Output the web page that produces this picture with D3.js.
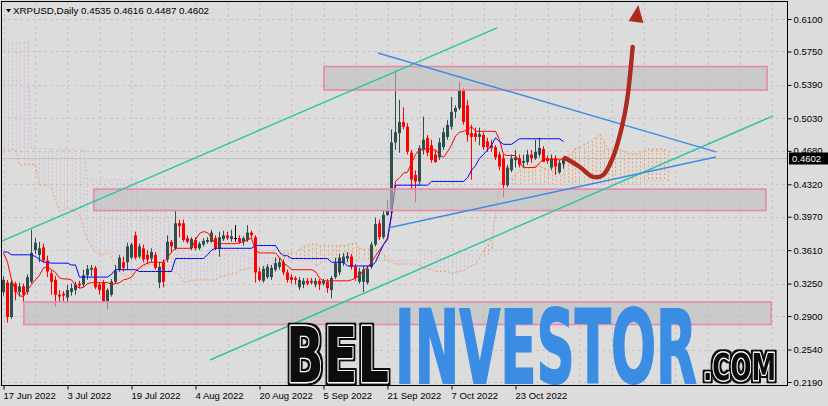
<!DOCTYPE html>
<html><head><meta charset="utf-8">
<script src="https://cdn.jsdelivr.net/npm/d3@7"></script>
<style>body{margin:0;background:#dcdcdc;}svg{display:block}</style>
</head><body><svg id="c" width="828" height="406"></svg>
<script>
// ---------- DATA ----------
const symbol = "XRPUSD,Daily";
const lastQuote = ["0.4535", "0.4616", "0.4487", "0.4602"];
const dateTickBars = [0, 16, 32, 48, 64, 80, 96, 112, 128];
const dateTickLabels = ["17 Jun 2022", "3 Jul 2022", "19 Jul 2022", "4 Aug 2022", "20 Aug 2022", "5 Sep 2022", "21 Sep 2022", "7 Oct 2022", "23 Oct 2022"];
const priceTicks = [0.6100, 0.5750, 0.5390, 0.5030, 0.4680, 0.4320, 0.3970, 0.3610, 0.3250, 0.2900, 0.2540, 0.2190];
const lastPrice = 0.4602;

const opens = [.316,.326,.289,.325,.316,.322,.316,.327,.361,.356,
.364,.350,.336,.329,.313,.314,.310,.316,.318,.325,
.324,.334,.340,.342,.324,.326,.306,.313,.327,.340,
.348,.348,.353,.377,.354,.363,.356,.352,.356,.326,
.348,.351,.370,.363,.390,.390,.374,.363,.372,.363,
.367,.370,.370,.374,.363,.373,.377,.373,.374,.374,
.370,.372,.380,.375,.338,.328,.332,.332,.340,.343,
.348,.337,.332,.331,.321,.324,.328,.328,.324,.328,
.325,.327,.318,.332,.337,.347,.352,.354,.343,.327,
.327,.326,.343,.367,.390,.375,.399,.402,.477,.487,
.499,.494,.466,.442,.435,.469,.482,.474,.464,.461,
.472,.483,.494,.510,.514,.534,.517,.487,.487,.483,
.485,.478,.474,.472,.464,.460,.431,.447,.458,.460,
.455,.456,.464,.460,.464,.470,.460,.450,.460,.445,
.4535];
const highs = [.333,.329,.330,.327,.326,.325,.335,.383,.374,.370,
.368,.355,.339,.333,.318,.317,.324,.325,.327,.328,
.340,.345,.345,.344,.326,.329,.320,.330,.345,.356,
.354,.369,.369,.381,.368,.367,.361,.363,.359,.348,
.351,.377,.372,.404,.394,.394,.377,.375,.375,.370,
.374,.375,.383,.377,.381,.382,.381,.383,.388,.377,
.376,.388,.382,.377,.342,.344,.346,.345,.353,.353,
.351,.340,.335,.333,.332,.331,.331,.331,.331,.330,
.330,.330,.333,.353,.357,.358,.359,.357,.346,.342,
.344,.344,.370,.396,.394,.404,.415,.491,.555,.523,
.515,.498,.469,.447,.474,.505,.485,.480,.469,.482,
.493,.501,.526,.517,.543,.536,.523,.496,.493,.493,
.488,.482,.480,.474,.467,.464,.453,.464,.469,.464,
.464,.469,.469,.480,.482,.473,.463,.464,.463,.458,
.4616];
const lows = [.312,.283,.287,.307,.311,.304,.313,.325,.357,.348,
.348,.332,.313,.300,.305,.306,.304,.312,.313,.320,
.321,.329,.333,.319,.313,.304,.297,.311,.325,.338,
.338,.340,.351,.351,.352,.348,.346,.348,.340,.320,
.321,.348,.359,.361,.375,.370,.368,.361,.361,.361,
.365,.368,.369,.361,.354,.371,.372,.370,.370,.368,
.366,.370,.374,.326,.327,.326,.330,.329,.338,.340,
.334,.326,.325,.324,.318,.320,.323,.324,.321,.318,
.323,.315,.309,.330,.334,.344,.348,.340,.328,.325,
.316,.324,.341,.365,.372,.373,.398,.399,.469,.466,
.491,.464,.426,.413,.431,.464,.462,.455,.455,.458,
.469,.480,.491,.503,.512,.496,.478,.437,.478,.474,
.469,.467,.467,.458,.447,.418,.429,.445,.450,.450,
.450,.453,.455,.458,.461,.456,.454,.447,.442,.443,
.4487];
const closes = [.329,.289,.326,.316,.322,.313,.332,.358,.369,.363,
.350,.338,.327,.313,.311,.312,.318,.320,.324,.323,
.334,.341,.342,.321,.318,.306,.318,.327,.339,.353,
.342,.365,.367,.353,.365,.351,.351,.359,.342,.343,
.327,.370,.365,.390,.387,.372,.370,.373,.363,.368,
.371,.372,.380,.363,.375,.377,.374,.376,.374,.370,
.374,.380,.377,.337,.329,.341,.343,.342,.347,.348,
.337,.329,.329,.329,.329,.328,.325,.326,.328,.324,
.328,.320,.331,.347,.353,.354,.355,.343,.331,.338,
.340,.341,.367,.389,.375,.399,.404,.477,.488,.499,
.494,.467,.437,.435,.471,.480,.466,.458,.456,.477,
.488,.496,.510,.514,.534,.499,.485,.483,.483,.486,
.472,.472,.471,.461,.451,.431,.450,.460,.461,.453,
.457,.464,.460,.467,.471,.456,.457,.460,.451,.455,
.4602];

const tenkan = [.358,.348,.329,.318,.312,.311,.318,.324,.329,.334,
.342,.343,.340,.337,.331,.330,.330,.329,.323,.320,
.321,.325,.326,.326,.326,.326,.326,.324,.325,.326,
.329,.330,.332,.338,.342,.345,.347,.348,.348,.348,
.348,.353,.359,.363,.363,.363,.363,.363,.372,.379,
.381,.380,.374,.368,.368,.368,.368,.368,.368,.369,
.370,.372,.374,.361,.358,.358,.358,.358,.358,.353,
.347,.344,.340,.340,.340,.340,.340,.340,.338,.331,
.328,.328,.328,.328,.328,.328,.328,.329,.331,.334,
.339,.343,.348,.355,.361,.367,.372,.399,.435,.439,
.444,.445,.455,.464,.469,.469,.471,.469,.469,.464,
.461,.467,.474,.484,.488,.489,.491,.494,.489,.489,
.489,.489,.489,.489,.480,.464,.463,.463,.463,.456,
.450,.450,.450,.450,.455,.459,.459,.459,.459,.459,
.459];
const kijun = [.359,.359,.356,.356,.356,.356,.356,.356,.354,.351,
.348,.348,.347,.347,.347,.347,.347,.345,.345,.332,
.332,.332,.332,.332,.332,.332,.332,.335,.340,.340,
.340,.340,.340,.340,.338,.338,.338,.338,.338,.338,
.338,.338,.338,.352,.352,.352,.352,.352,.352,.352,
.352,.356,.361,.363,.363,.363,.363,.363,.363,.363,
.363,.363,.363,.366,.366,.366,.366,.366,.366,.359,
.355,.355,.352,.352,.352,.352,.352,.352,.352,.352,
.352,.352,.348,.348,.348,.348,.344,.344,.344,.344,
.344,.344,.344,.348,.358,.367,.374,.399,.431,.431,
.431,.431,.431,.431,.431,.431,.431,.435,.435,.435,
.435,.435,.435,.435,.435,.435,.439,.447,.452,.460,
.464,.469,.474,.482,.478,.475,.475,.475,.478,.481,
.481,.481,.481,.481,.481,.481,.481,.481,.481,.481,
.478];
// Senkou spans, bars 0..166 (projected 26 bars ahead)
const spanA = [.469,.469,.469,.469,.453,.453,.453,.453,.453,.431,
.431,.431,.426,.415,.403,.404,.407,.404,.402,.399,
.385,.372,.365,.359,.357,.356,.359,.354,.342,.337,
.334,.333,.337,.340,.341,.342,.345,.346,.344,.342,
.339,.339,.339,.337,.334,.326,.327,.328,.329,.329,
.329,.329,.329,.329,.332,.333,.334,.335,.336,.339,
.340,.341,.342,.343,.343,.343,.343,.345,.348,.358,
.358,.358,.358,.358,.362,.365,.366,.368,.368,.366,
.366,.366,.366,.366,.366,.366,.367,.368,.369,.363,
.362,.362,.362,.362,.362,.356,.351,.349,.346,.346,
.346,.346,.346,.346,.345,.342,.340,.340,.338,.338,
.338,.338,.336,.337,.338,.339,.342,.344,.346,.352,
.360,.367,.373,.399,.433,.435,.438,.438,.443,.447,
.450,.450,.451,.452,.452,.449,.448,.451,.454,.459,
.461,.462,.465,.471,.471,.475,.477,.479,.482,.486,
.479,.470,.469,.469,.470,.468,.465,.465,.465,.465,
.468,.470,.470,.470,.470,.470,.468];
const spanB = [.585,.585,.585,.585,.585,.585,.585,.470,.470,.470,
.470,.470,.470,.470,.470,.470,.470,.470,.470,.470,
.470,.437,.437,.437,.437,.437,.437,.437,.437,.437,
.437,.437,.437,.437,.405,.405,.405,.405,.405,.405,
.405,.399,.356,.356,.356,.356,.356,.356,.356,.356,
.356,.356,.356,.356,.356,.356,.356,.356,.356,.356,
.356,.353,.353,.353,.353,.353,.353,.353,.353,.350,
.350,.350,.350,.350,.350,.350,.350,.350,.343,.346,
.350,.350,.350,.350,.350,.350,.350,.350,.350,.350,
.350,.350,.350,.350,.350,.350,.350,.350,.350,.350,
.350,.350,.350,.350,.361,.361,.361,.361,.356,.356,
.356,.356,.356,.356,.356,.356,.356,.356,.356,.356,
.356,.356,.362,.399,.432,.432,.432,.432,.432,.432,
.432,.432,.432,.432,.432,.432,.432,.432,.432,.432,
.432,.432,.432,.432,.432,.432,.432,.432,.432,.432,
.432,.432,.432,.432,.432,.432,.432,.432,.432,.432,
.436,.436,.436,.436,.436,.436,.436];

// drawing objects: [barIndex, price]
const zoneTops = [0.5588, 0.4268, 0.3052];
const zoneBottoms = [0.5335, 0.4037, 0.2809];
const zoneStarts = [80.1, 22.6, 5.1];
const zoneEnds = [190.9, 190.6, 191.9];
const channelUpper = [[-0.9, 0.3698], [123.4, 0.6004]];
const channelLower = [[51.6, 0.2427], [192.4, 0.5056]];
const wedgeUpper = [[93.6, 0.5734], [178.1, 0.4668]];
const wedgeLower = [[96.1, 0.3849], [178.1, 0.4614]];
const forecast = [[140.4, 0.4603], [144.1, 0.4506], [147.4, 0.4399], [149.9, 0.4420], [152.4, 0.4614], [154.6, 0.4937], [155.9, 0.5228], [157.3, 0.5800], [158.7, 0.6250]];

// ---------- DRAW ----------
const svg = d3.select("#c");
const L = 2, R = 787, T = 2, B = 385;
const x = d3.scaleLinear().domain([0, 140]).range([3.5, 563.5]);
const y = d3.scaleLinear().domain([0.219, 0.610]).range([382, 19]);
const font = "'Liberation Sans', Arial, sans-serif";

svg.append("rect").attr("width", 828).attr("height", 406).attr("fill", "#dcdcdc");
const defs = svg.append("defs");
defs.append("clipPath").attr("id", "pc")
  .append("rect").attr("x", L).attr("y", T).attr("width", R - L).attr("height", B - T);
const flt = defs.append("filter").attr("id", "ol").attr("x", "-10%").attr("y", "-10%").attr("width", "120%").attr("height", "120%");
flt.append("feMorphology").attr("in", "SourceAlpha").attr("operator", "dilate").attr("radius", 2.2).attr("result", "d");
flt.append("feFlood").attr("flood-color", "#111").attr("result", "f");
flt.append("feComposite").attr("in", "f").attr("in2", "d").attr("operator", "in").attr("result", "o");
const fm = flt.append("feMerge");
fm.append("feMergeNode").attr("in", "o");
fm.append("feMergeNode").attr("in", "SourceGraphic");

const g = svg.append("g").attr("clip-path", "url(#pc)");

// grid
const gridX = d3.range(0, 200, 8);
g.selectAll(".gx").data(gridX).join("line")
  .attr("x1", d => Math.round(x(d)) + 0.5).attr("x2", d => Math.round(x(d)) + 0.5)
  .attr("y1", T).attr("y2", B).attr("stroke", "#c6c6c6").attr("stroke-dasharray", "3,3");
g.selectAll(".gy").data(priceTicks).join("line")
  .attr("x1", L).attr("x2", R).attr("y1", d => Math.round(y(d)) + 0.5).attr("y2", d => Math.round(y(d)) + 0.5)
  .attr("stroke", "#c6c6c6").attr("stroke-dasharray", "3,3");

// bid line
g.append("line").attr("x1", L).attr("x2", R).attr("y1", Math.round(y(lastPrice)) + 0.5).attr("y2", Math.round(y(lastPrice)) + 0.5)
  .attr("stroke", "#c0c0c0");

// kumo hatch
const idxCloud = d3.range(spanA.length);
g.selectAll(".hatch").data(idxCloud).join("line")
  .attr("x1", i => Math.round(x(i)) + 0.5).attr("x2", i => Math.round(x(i)) + 0.5)
  .attr("y1", i => y(spanA[i])).attr("y2", i => y(spanB[i]))
  .attr("stroke", i => spanA[i] >= spanB[i] ? "#f4a460" : "#d8bfd8")
  .attr("stroke-dasharray", "2,2");
const lineOf = arr => d3.line().x((d, i) => x(i)).y(d => y(d))(arr);
g.append("path").attr("d", lineOf(spanA)).attr("fill", "none").attr("stroke", "#f4a460").attr("stroke-dasharray", "2,2");
g.append("path").attr("d", lineOf(spanB)).attr("fill", "none").attr("stroke", "#d8bfd8").attr("stroke-dasharray", "2,2");

// candles
const idx = d3.range(opens.length);
const col = i => closes[i] > opens[i] ? "#2f4f4f" : (closes[i] < opens[i] ? "#ff0000" : "#000000");
g.selectAll(".wick").data(idx).join("line")
  .attr("x1", i => x(i)).attr("x2", i => x(i))
  .attr("y1", i => y(highs[i])).attr("y2", i => y(lows[i]))
  .attr("stroke", col);
g.selectAll(".body").data(idx).join("rect")
  .attr("x", i => x(i) - 1.5).attr("width", 3)
  .attr("y", i => y(Math.max(opens[i], closes[i])))
  .attr("height", i => Math.max(1, Math.abs(y(opens[i]) - y(closes[i]))))
  .attr("fill", col);

// tenkan / kijun
g.append("path").attr("d", lineOf(tenkan)).attr("fill", "none").attr("stroke", "#ff0000");
g.append("path").attr("d", lineOf(kijun)).attr("fill", "none").attr("stroke", "#0000ff");

// zones
zoneTops.forEach((t, k) => {
  g.append("rect").attr("x", x(zoneStarts[k])).attr("y", y(t))
    .attr("width", x(zoneEnds[k]) - x(zoneStarts[k])).attr("height", y(zoneBottoms[k]) - y(t))
    .attr("fill", "rgba(190,190,190,0.62)").attr("stroke", "#e889aa").attr("stroke-width", 1.6);
});

// trend lines
const seg = (pts, c) => g.append("line").attr("x1", x(pts[0][0])).attr("y1", y(pts[0][1]))
  .attr("x2", x(pts[1][0])).attr("y2", y(pts[1][1])).attr("stroke", c).attr("stroke-width", 1.4);
seg(channelUpper, "#2cc4a4"); seg(channelLower, "#2cc4a4");
seg(wedgeUpper, "#3d8ae6"); seg(wedgeLower, "#3d8ae6");

// forecast arrow
const fp = forecast.map(d => [x(d[0]), y(d[1])]);
g.append("path").attr("d", d3.line().curve(d3.curveCatmullRom.alpha(0.5))(fp.slice(0, -1)))
  .attr("fill", "none").attr("stroke", "#ac2a20").attr("stroke-width", 4.4).attr("stroke-linecap", "round");
{
  const a = fp[fp.length - 2], b = fp[fp.length - 1];
  const ang = Math.atan2(b[1] - a[1], b[0] - a[0]);
  const len = 17, hw = 7.5;
  const bx = b[0] - len * Math.cos(ang), by = b[1] - len * Math.sin(ang);
  const px = -Math.sin(ang), py = Math.cos(ang);
  g.append("path").attr("d", `M${b[0]},${b[1]}L${bx + hw * px},${by + hw * py}L${bx - hw * px},${by - hw * py}Z`)
    .attr("fill", "#ac2a20");
}

// watermark
const wm = svg.append("g");
const wfont = "'DejaVu Sans','Liberation Sans',sans-serif";
function outlined(txt, xx, yy, size, len) {
  wm.append("text").attr("x", xx).attr("y", yy).attr("font-family", wfont).attr("font-weight", "bold")
    .attr("font-size", size).attr("textLength", len).attr("lengthAdjust", "spacingAndGlyphs")
    .attr("fill", "#111").attr("stroke", "#fff").attr("stroke-width", 2.4).attr("paint-order", "stroke")
    .attr("stroke-linejoin", "round").attr("filter", "url(#ol)").text(txt);
}
outlined("BEL", 286, 382, 76, 103);
wm.append("text").attr("x", 395).attr("y", 383).attr("font-family", wfont).attr("font-weight", "bold")
  .attr("font-size", 102).attr("textLength", 302).attr("lengthAdjust", "spacingAndGlyphs")
  .attr("fill", "#3b8de4").attr("stroke", "#3b8de4").attr("stroke-width", 2).text("INVESTOR");
outlined(".COM", 703, 380, 37, 73);

// frame & axes
svg.append("rect").attr("x", L - 0.5).attr("y", T - 0.5).attr("width", R - L + 1).attr("height", B - T + 1)
  .attr("fill", "none").attr("stroke", "#000");

const ya = svg.append("g").attr("transform", `translate(${R + 0.5},0)`)
  .call(d3.axisRight(y).tickValues(priceTicks).tickFormat(d3.format(".4f")).tickSize(4).tickPadding(2));
ya.select(".domain").remove();
ya.selectAll("text").attr("font-family", font).attr("font-size", 9.5).attr("fill", "#000");
ya.selectAll("line").attr("stroke", "#000");

const xa = svg.append("g").attr("transform", `translate(0,${B + 0.5})`)
  .call(d3.axisBottom(x).tickValues(dateTickBars).tickFormat((d, i) => dateTickLabels[i]).tickSize(4).tickPadding(3));
xa.select(".domain").remove();
xa.selectAll("text").attr("font-family", font).attr("font-size", 9.5).attr("fill", "#000").attr("text-anchor", "start").attr("dx", -0.5);
xa.selectAll("line").attr("stroke", "#000");

// price label
svg.append("rect").attr("x", 789).attr("y", Math.round(y(lastPrice)) - 5.5).attr("width", 39).attr("height", 12).attr("fill", "#000");
svg.append("text").attr("x", 792).attr("y", y(lastPrice) + 3.5).attr("font-family", font).attr("font-size", 9.5)
  .attr("fill", "#fff").text(d3.format(".4f")(lastPrice));

// title
svg.append("path").attr("d", "M6,9L11,9L8.5,12.5Z").attr("fill", "#000");
svg.append("text").attr("x", 13).attr("y", 13.5).attr("font-family", font).attr("font-size", 9.8).attr("fill", "#000")
  .text(symbol + "  " + lastQuote.join(" "));
</script></body></html>
